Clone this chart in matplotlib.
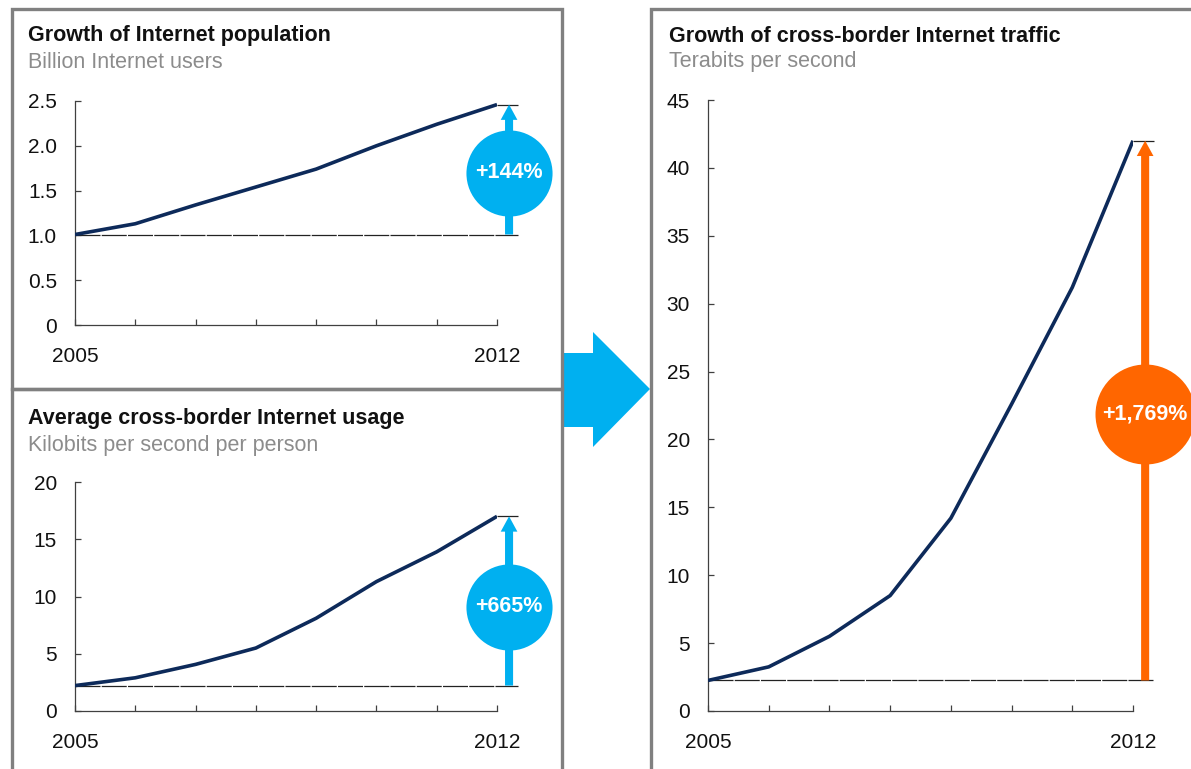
import matplotlib.pyplot as plt
from matplotlib.patches import Polygon, Rectangle

plt.rcParams['font.family'] = ['Liberation Sans', 'DejaVu Sans']

W, H = 1191, 769

years = [2005, 2006, 2007, 2008, 2009, 2010, 2011, 2012]

# billion internet users
users = [1.01, 1.13, 1.34, 1.54, 1.74, 2.00, 2.24, 2.46]
users_ticks = [0, 0.5, 1.0, 1.5, 2.0, 2.5]
users_ticklabels = ['0', '0.5', '1.0', '1.5', '2.0', '2.5']

# kbps per person
usage = [2.22, 2.90, 4.07, 5.50, 8.10, 11.30, 13.90, 17.0]
usage_ticks = [0, 5, 10, 15, 20]
usage_ticklabels = ['0', '5', '10', '15', '20']

# terabits per second
traffic = [2.25, 3.25, 5.50, 8.50, 14.20, 22.60, 31.20, 42.0]
traffic_ticks = [0, 5, 10, 15, 20, 25, 30, 35, 40, 45]
traffic_ticklabels = [str(t) for t in traffic_ticks]

growth_labels = ['+144%', '+665%', '+1,769%']

NAVY = '#0d2a5a'
BLUE = '#00b0f0'
ORANGE = '#ff6600'
BORDER = '#808080'
SUBGREY = '#8c8c8c'


def fx(px):
    return px / W


def fy(py):
    return 1 - py / H


fig = plt.figure(figsize=(W / 100, H / 100), dpi=100)
fig.patch.set_facecolor('white')

# panel frames
for x0, y0, x1, y1 in [(12, 9, 562, 389), (12, 389, 562, 790), (651, 9, 1210, 790)]:
    fig.add_artist(Rectangle((fx(x0), fy(y1)), fx(x1) - fx(x0), fy(y0) - fy(y1),
                             transform=fig.transFigure, fill=False,
                             edgecolor=BORDER, linewidth=2.4, zorder=5))

# block arrow between the panels
arrow_px = [(563, 353), (593, 353), (593, 332), (650, 389), (593, 447), (593, 427), (563, 427)]
fig.add_artist(Polygon([(fx(x), fy(y)) for x, y in arrow_px], closed=True,
                       transform=fig.transFigure, facecolor=BLUE, edgecolor='none', zorder=4))


def panel(rect, values, ticks, ticklabels, color):
    ax = fig.add_axes(rect)
    ax.plot(years, values, color=NAVY, linewidth=2.6, zorder=4, solid_capstyle='butt')
    ax.set_xlim(2005, 2012)
    ax.set_ylim(ticks[0], ticks[-1])
    ax.set_xticks(years)
    ax.set_xticklabels(['2005', '', '', '', '', '', '', '2012'])
    ax.set_yticks(ticks)
    ax.set_yticklabels(ticklabels)
    for s in ['top', 'right']:
        ax.spines[s].set_visible(False)
    for s in ['left', 'bottom']:
        ax.spines[s].set_color('#404040')
        ax.spines[s].set_linewidth(0.9)
    ax.tick_params(axis='both', direction='in', length=4.5, width=0.9,
                   color='#404040', labelsize=15, labelcolor='#111111')
    ax.tick_params(axis='y', pad=13)
    ax.tick_params(axis='x', pad=16)

    # baseline at the first value, short cap at the last, growth arrow between
    start, end = values[0], values[-1]
    x_end = 2012.35
    x_arrow = 2012.2
    dash = (0, (20, 1.0))
    ax.plot([2005, x_end], [start, start], color='#222222', linewidth=0.9,
            linestyle=dash, clip_on=False, zorder=3)
    ax.plot([2012, x_end], [end, end], color='#222222', linewidth=0.9,
            linestyle=dash, clip_on=False, zorder=3)
    ax.annotate('', xy=(x_arrow, end), xytext=(x_arrow, start),
                arrowprops=dict(arrowstyle='simple,head_width=1.2,head_length=1.1,tail_width=0.58',
                                mutation_scale=10, color=color, shrinkA=0, shrinkB=0,
                                linewidth=0),
                annotation_clip=False, zorder=5)
    return ax, x_arrow


def badge(ax, x, y, size, color, label):
    ax.scatter([x], [y], s=size ** 2, color=color, zorder=6, clip_on=False, linewidths=0)
    ax.text(x, y, label, color='white', fontsize=15.5, fontweight='bold',
            ha='center', va='center', zorder=7)


# top left
ax1, xa = panel([fx(75), fy(325), fx(497) - fx(75), fy(101) - fy(325)],
                users, users_ticks, users_ticklabels, BLUE)
badge(ax1, xa, 1.70, 62, BLUE, growth_labels[0])

# bottom left
ax2, xa = panel([fx(75), fy(711), fx(497) - fx(75), fy(482) - fy(711)],
                usage, usage_ticks, usage_ticklabels, BLUE)
badge(ax2, xa, 9.1, 62, BLUE, growth_labels[1])

# right
ax3, xa = panel([fx(708), fy(711), fx(1133) - fx(708), fy(100) - fy(711)],
                traffic, traffic_ticks, traffic_ticklabels, ORANGE)
badge(ax3, xa, 21.9, 72, ORANGE, growth_labels[2])

# panel titles
titles = [
    (28, 36, 'Growth of Internet population', 62, 'Billion Internet users'),
    (28, 419, 'Average cross-border Internet usage', 445, 'Kilobits per second per person'),
    (669, 36, 'Growth of cross-border Internet traffic', 62, 'Terabits per second'),
]
for x, y, t, ys, st in titles:
    fig.text(fx(x), fy(y), t, fontsize=15.5, fontweight='bold', color='#111111',
             ha='left', va='center')
    fig.text(fx(x), fy(ys), st, fontsize=15.5, color=SUBGREY, ha='left', va='center')

fig.savefig('out.png', dpi=100)
